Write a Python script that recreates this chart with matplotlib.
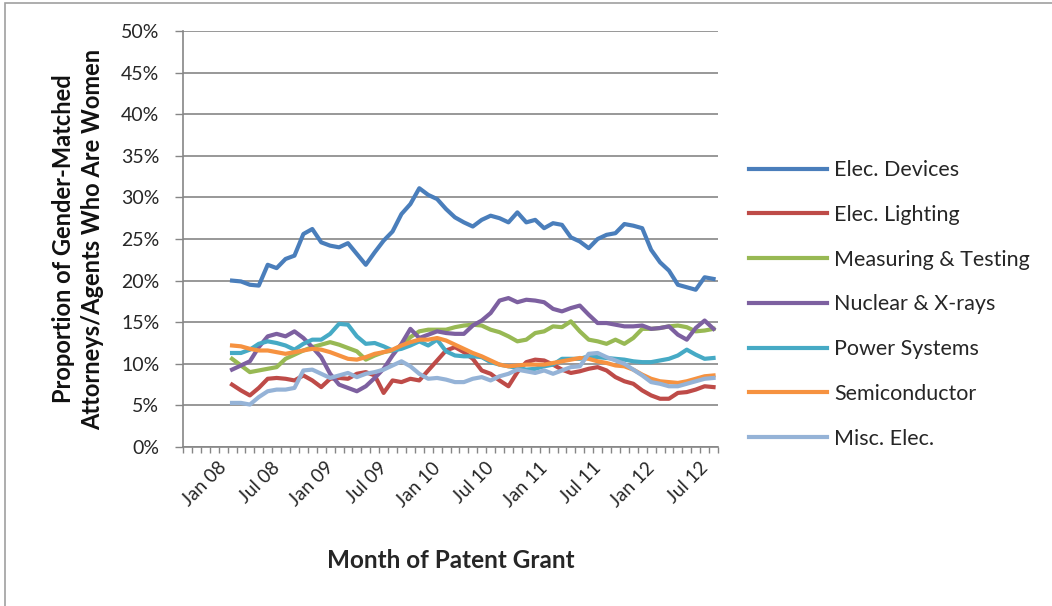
import numpy as np
import matplotlib
matplotlib.use('Agg')
import matplotlib.pyplot as plt
from matplotlib.ticker import FixedLocator, FuncFormatter
import matplotlib.transforms as mtransforms

plt.rcParams['font.family'] = ['Lato', 'DejaVu Sans']

# months on the category axis: Jan 08 .. Dec 12 (60 categories)
n_months = 60
tick_labels = ["Jan 08", "Jul 08", "Jan 09", "Jul 09", "Jan 10",
               "Jul 10", "Jan 11", "Jul 11", "Jan 12", "Jul 12"]
first_month = 5          # series start in Jun 08

elec_devices = [20.0, 19.9, 19.5, 19.4, 21.9, 21.5, 22.6, 23.0, 25.6, 26.2,
                24.6, 24.2, 24.0, 24.5, 23.2, 21.9, 23.4, 24.8, 25.9, 28.0,
                29.2, 31.1, 30.3, 29.8, 28.6, 27.6, 27.0, 26.5, 27.3, 27.8,
                27.5, 27.0, 28.2, 27.0, 27.3, 26.3, 26.9, 26.7, 25.2, 24.7,
                23.9, 25.0, 25.5, 25.7, 26.8, 26.6, 26.3, 23.7, 22.2, 21.2,
                19.5, 19.2, 18.9, 20.4, 20.2]
elec_lighting = [7.5, 6.8, 6.2, 7.1, 8.2, 8.3, 8.2, 8.0, 8.6, 8.0,
                 7.2, 8.2, 8.3, 8.2, 8.8, 9.0, 8.6, 6.5, 8.0, 7.8,
                 8.2, 8.0, 9.2, 10.4, 11.6, 12.0, 11.4, 10.6, 9.2, 8.8,
                 8.0, 7.3, 9.0, 10.2, 10.5, 10.4, 9.9, 9.3, 8.9, 9.1,
                 9.4, 9.6, 9.2, 8.4, 7.9, 7.6, 6.8, 6.2, 5.8, 5.8,
                 6.5, 6.6, 6.9, 7.3, 7.2]
measuring = [10.6, 9.8, 9.0, 9.2, 9.4, 9.6, 10.6, 11.1, 11.6, 12.0,
             12.3, 12.6, 12.3, 11.9, 11.5, 10.5, 11.0, 11.4, 11.6, 12.2,
             13.2, 13.9, 14.1, 14.1, 14.1, 14.4, 14.6, 14.7, 14.6, 14.1,
             13.8, 13.3, 12.7, 12.9, 13.7, 13.9, 14.5, 14.4, 15.1, 13.9,
             12.9, 12.7, 12.4, 12.9, 12.4, 13.1, 14.2, 14.2, 14.3, 14.5,
             14.6, 14.4, 13.9, 14.0, 14.2]
nuclear = [9.3, 9.8, 10.3, 12.0, 13.3, 13.6, 13.3, 13.9, 13.1, 12.0,
           10.8, 8.8, 7.5, 7.1, 6.7, 7.3, 8.3, 9.4, 11.0, 12.4,
           14.2, 13.1, 13.5, 13.9, 13.7, 13.6, 13.6, 14.6, 15.2, 16.1,
           17.6, 17.9, 17.4, 17.7, 17.6, 17.4, 16.6, 16.3, 16.7, 17.0,
           15.9, 14.9, 14.9, 14.7, 14.5, 14.5, 14.6, 14.2, 14.3, 14.5,
           13.5, 12.9, 14.3, 15.2, 14.2]
power = [11.3, 11.3, 11.7, 12.4, 12.7, 12.5, 12.2, 11.7, 12.4, 12.9,
         12.9, 13.6, 14.8, 14.7, 13.3, 12.4, 12.5, 12.1, 11.6, 11.8,
         12.2, 12.7, 12.2, 12.9, 11.5, 11.0, 10.9, 10.9, 10.8, 10.2,
         9.9, 9.7, 9.5, 9.3, 9.4, 9.7, 9.9, 10.6, 10.6, 10.6,
         10.9, 10.8, 10.7, 10.6, 10.5, 10.3, 10.2, 10.2, 10.4, 10.6,
         11.0, 11.7, 11.1, 10.6, 10.7]
semiconductor = [12.2, 12.1, 11.8, 11.6, 11.6, 11.4, 11.2, 11.4, 11.6, 11.8,
                 11.7, 11.4, 11.0, 10.6, 10.5, 10.8, 11.2, 11.4, 11.7, 12.2,
                 12.6, 12.9, 12.9, 13.1, 12.8, 12.3, 11.8, 11.3, 10.9, 10.4,
                 9.9, 9.7, 9.8, 9.9, 9.9, 9.9, 10.1, 10.3, 10.5, 10.7,
                 10.6, 10.3, 10.1, 9.8, 9.7, 9.3, 8.7, 8.2, 7.9, 7.8,
                 7.7, 7.9, 8.2, 8.5, 8.6]
misc_elec = [5.3, 5.3, 5.1, 6.0, 6.7, 6.9, 6.9, 7.1, 9.2, 9.3,
             8.8, 8.3, 8.6, 8.9, 8.4, 8.8, 9.0, 9.3, 9.8, 10.3,
             9.7, 8.8, 8.2, 8.3, 8.1, 7.8, 7.8, 8.2, 8.4, 8.0,
             8.5, 8.8, 9.3, 9.1, 8.9, 9.2, 8.8, 9.2, 9.6, 9.7,
             11.2, 11.3, 10.8, 10.4, 10.0, 9.3, 8.6, 7.8, 7.6, 7.3,
             7.3, 7.6, 7.9, 8.2, 8.3]

series = [
    ("Elec. Devices", elec_devices, '#4A7EBB'),
    ("Elec. Lighting", elec_lighting, '#BE4B48'),
    ("Measuring & Testing", measuring, '#98B954'),
    ("Nuclear & X-rays", nuclear, '#7D60A0'),
    ("Power Systems", power, '#46AAC5'),
    ("Semiconductor", semiconductor, '#F69240'),
    ("Misc. Elec.", misc_elec, '#95B3D7'),
]

W, H = 1052, 606
fig = plt.figure(figsize=(W / 100, H / 100), dpi=100)
ax = fig.add_axes([183 / W, 1 - 447 / H, 535 / W, 416 / H])

grey = '#868686'
for name, vals, col in series:
    x = np.arange(first_month, first_month + len(vals))
    ax.plot(x, vals, color=col, lw=3.0, label=name, solid_joinstyle='round')

ax.set_xlim(-0.5, n_months - 0.5)
ax.set_ylim(0, 50)

# y axis
ax.set_yticks(np.arange(0, 51, 5))
ax.yaxis.set_major_formatter(FuncFormatter(lambda v, p: f"{v:.0f}%"))
ax.yaxis.grid(True, color=grey, lw=1.2)
ax.set_axisbelow(True)
ax.tick_params(axis='y', direction='out', length=6, width=1, color=grey,
               pad=11, labelsize=14, labelcolor='#262626')

# x axis: tick marks between months, labels every 6 months
ax.xaxis.set_minor_locator(FixedLocator(np.arange(-0.5, n_months, 1)))
ax.set_xticks(np.arange(0, n_months, 6)[:len(tick_labels)])
ax.set_xticklabels(tick_labels, rotation=45, ha='right',
                   rotation_mode='anchor')
ax.tick_params(axis='x', which='major', length=0, labelsize=13.5,
               labelcolor='#262626', pad=0)
ax.tick_params(axis='x', which='minor', direction='out', length=4.5,
               width=1, color=grey)
shift = mtransforms.ScaledTranslation(30 / 100, -12 / 100, fig.dpi_scale_trans)
for lbl in ax.get_xticklabels():
    lbl.set_transform(lbl.get_transform() + shift)

for s in ['top', 'right']:
    ax.spines[s].set_visible(False)
for s in ['left', 'bottom']:
    ax.spines[s].set_color(grey)
    ax.spines[s].set_linewidth(1.2)

ax.set_xlabel("Month of Patent Grant", fontsize=17.5, fontweight='bold',
              color='#262626')
ax.xaxis.set_label_coords(0.5, (447 - 560) / 416)
ax.xaxis.label.set_va('center')
ax.set_ylabel("Proportion of Gender-Matched\nAttorneys/Agents Who Are Women",
              fontsize=17, fontweight='bold', color='#111111', linespacing=1.3)
ax.yaxis.set_label_coords((78 - 183) / 535, 0.5)
ax.yaxis.label.set_va('center')

fig.legend(loc='center left', bbox_to_anchor=(738 / W, 1 - 304.5 / H),
           frameon=False, fontsize=15.5, borderpad=0, handlelength=3.65,
           handletextpad=0.3, labelspacing=1.15, labelcolor='#262626')

# outer chart-area border (partly cut by the image edges)
fig.patches.append(plt.Rectangle((5 / W, -0.05), 1.2, 1.05 - 3 / H,
                                 transform=fig.transFigure, fill=False,
                                 edgecolor='#a0a0a0', lw=1.2))

fig.savefig("out.png", dpi=100)
